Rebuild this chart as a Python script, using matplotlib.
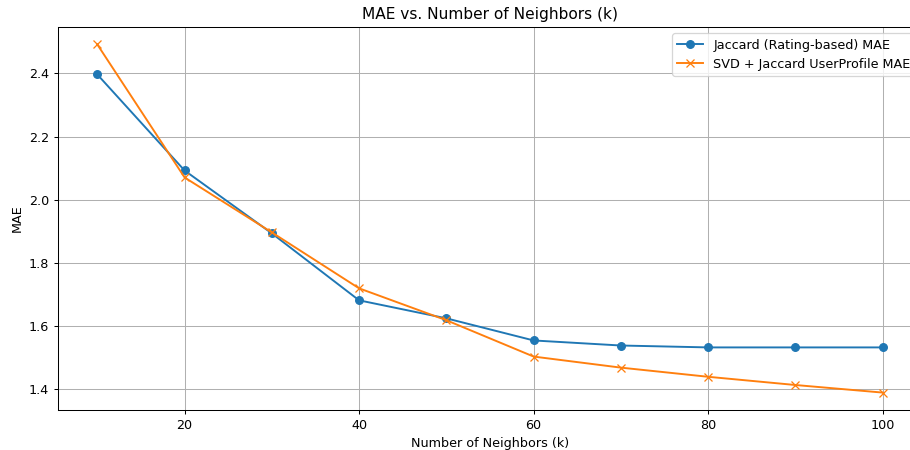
import matplotlib
matplotlib.use("Agg")
import matplotlib.pyplot as plt

k_values = [10, 20, 30, 40, 50, 60, 70, 80, 90, 100]
jaccard_mae = [2.397, 2.093, 1.894, 1.682, 1.625, 1.555, 1.539, 1.533, 1.533, 1.533]
svd_jaccard_mae = [2.492, 2.071, 1.897, 1.720, 1.619, 1.504, 1.469, 1.440, 1.414, 1.390]


def main():
    dpi = 92
    fig = plt.figure(figsize=(910 / dpi, 450 / dpi), dpi=dpi)
    # the right edge of the axes runs slightly past the picture, as in the reference
    ax = fig.add_axes([58 / 910, 1 - 410 / 450, 864 / 910, 383 / 450])

    ax.plot(k_values, jaccard_mae, marker='o', label='Jaccard (Rating-based) MAE')
    ax.plot(k_values, svd_jaccard_mae, marker='x', label='SVD + Jaccard UserProfile MAE')

    ax.set_title('MAE vs. Number of Neighbors (k)')
    ax.set_xlabel('Number of Neighbors (k)')
    ax.set_ylabel('MAE')
    ax.grid(True)
    ax.legend()

    fig.savefig('out.png', dpi=dpi)


if __name__ == "__main__":
    main()
